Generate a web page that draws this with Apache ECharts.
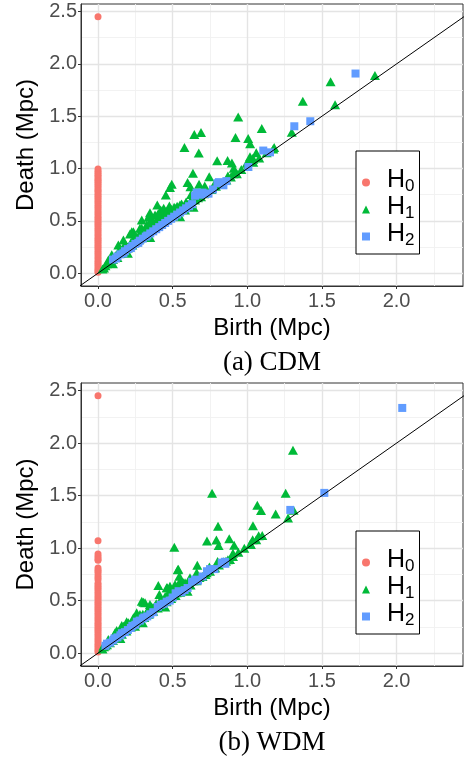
<!DOCTYPE html>
<html>
<head>
<meta charset="utf-8">
<script src="https://cdn.jsdelivr.net/npm/echarts@6/dist/echarts.min.js"></script>
<style>
html,body{margin:0;padding:0;background:#fff;}
#chart{width:466px;height:760px;}
</style>
</head>
<body>
<div id="chart"></div>
<script>
// ---------- data ----------
const xTicks = [0, 0.5, 1.0, 1.5, 2.0];
const yTicks = [0, 0.5, 1.0, 1.5, 2.0, 2.5];
const xMinor = [0.25, 0.75, 1.25, 1.75, 2.25];
const yMinor = [0.25, 0.75, 1.25, 1.75, 2.25];
const seriesNames = ['H0', 'H1', 'H2'];
const captions = ['(a) CDM', '(b) WDM'];
const diagonal = [[-0.2, -0.2], [2.6, 2.6]];

const cdmH0Death = [2.45, 0.995, 0.975, 0.955, 0.935, 0.92, 0.90, 0.885, 0.87, 0.85, 0.83, 0.81, 0.79, 0.775, 0.755, 0.735, 0.715, 0.695, 0.675, 0.655, 0.635, 0.615, 0.595, 0.575, 0.555, 0.535, 0.515, 0.495, 0.475, 0.455, 0.435, 0.415, 0.395, 0.375, 0.355, 0.335, 0.315, 0.295, 0.275, 0.255, 0.235, 0.215, 0.195, 0.175, 0.155, 0.135, 0.115, 0.095, 0.075, 0.055, 0.035, 0.02, 0.01];

const cdmH1 = [[1.855,1.890],[1.558,1.830],[1.372,1.642],[1.588,1.609],[1.298,1.346],[0.939,1.493],[1.097,1.383],[0.645,1.326],[0.690,1.344],[0.921,1.296],[1.006,1.288],[1.019,1.237],[0.579,1.200],[0.675,1.148],[1.174,1.186],[1.060,1.151],[1.036,1.097],[1.023,1.072],[0.798,1.074],[0.868,1.076],[0.897,1.052],[0.909,1.002],[0.636,0.954],[0.745,0.922],[0.870,0.928],[0.906,0.950],[0.494,0.849],[0.482,0.820],[0.600,0.866],[0.619,0.826],[0.677,0.850],[0.715,0.833],[0.779,0.850],[0.454,0.746],[0.623,0.752],[1.018,1.113],[1.040,1.088],[0.996,1.050],
[0.397,0.652],[0.478,0.642],[0.516,0.620],[0.549,0.652],[0.583,0.604],[0.420,0.604],[0.455,0.588],[0.382,0.556],[0.337,0.534],[0.293,0.429],[0.237,0.397],[0.214,0.375],[0.293,0.509],[0.326,0.461],[0.181,0.280],[0.147,0.232],[0.114,0.158],[0.080,0.095],[0.348,0.578],[0.281,0.429],[0.226,0.397],[0.170,0.318],[0.136,0.270],[0.092,0.175],[0.069,0.127],
[0.03,0.04],[0.04,0.05],[0.05,0.07],[0.06,0.09],[0.08,0.11],[0.10,0.13],[0.12,0.17],[0.13,0.15],[0.15,0.19],[0.16,0.21],[0.18,0.22],[0.19,0.26],[0.20,0.24],[0.22,0.29],[0.23,0.27],[0.25,0.32],[0.26,0.30],[0.27,0.35],[0.28,0.33],[0.30,0.38],[0.31,0.36],[0.32,0.41],[0.33,0.39],[0.35,0.45],[0.36,0.42],[0.37,0.48],[0.38,0.44],[0.39,0.50],[0.40,0.47],[0.41,0.53],[0.42,0.49],[0.43,0.56],[0.44,0.51],[0.45,0.57],[0.46,0.53],[0.47,0.60],[0.48,0.55],[0.49,0.61],[0.50,0.57],[0.51,0.63],[0.52,0.58],[0.53,0.64],[0.54,0.60],[0.56,0.66],[0.57,0.62],[0.59,0.68],[0.60,0.65],[0.62,0.69],[0.63,0.67],[0.65,0.70],[0.67,0.72],[0.69,0.73],[0.71,0.76],[0.73,0.77],[0.76,0.80],[0.79,0.83],[0.82,0.85],[0.86,0.89],[0.89,0.92],[0.93,0.95],[0.96,0.99],[1.00,1.02],[1.04,1.06],[1.08,1.10],[1.13,1.15],[1.18,1.20],
[0.25,0.36],[0.29,0.40],[0.34,0.46],[0.40,0.56],[0.44,0.62],[0.36,0.52],[0.20,0.19],[0.35,0.34],[0.55,0.54],[0.10,0.09],[0.64,0.63]];

const cdmH2 = [[0.10,0.13],[0.12,0.14],[0.13,0.16],[0.15,0.18],[0.17,0.19],[0.18,0.21],[0.20,0.23],[0.22,0.24],[0.23,0.26],[0.25,0.28],[0.27,0.29],[0.28,0.31],[0.30,0.33],[0.32,0.35],[0.33,0.36],[0.35,0.38],[0.37,0.40],[0.39,0.42],[0.41,0.44],[0.43,0.46],[0.45,0.48],[0.47,0.50],[0.49,0.52],[0.51,0.54],[0.53,0.56],[0.55,0.58],[0.57,0.60],[0.59,0.62],[0.61,0.64],[0.63,0.66],[0.65,0.74],[0.66,0.77],[0.69,0.75],[0.70,0.77],[0.72,0.76],[0.74,0.76],[0.77,0.80],[0.80,0.86],[0.81,0.87],[0.84,0.84],[0.86,0.88],[1.007,1.015],[1.107,1.172],[1.152,1.155],[1.315,1.404],[1.422,1.452],[1.725,1.908]];

const wdmH0Death = [2.45, 1.07, 0.945, 0.92, 0.90, 0.885, 0.81, 0.79, 0.77, 0.745, 0.72, 0.70, 0.665, 0.645, 0.625, 0.605, 0.585, 0.565, 0.545, 0.525, 0.505, 0.485, 0.465, 0.445, 0.425, 0.405, 0.385, 0.365, 0.345, 0.325, 0.305, 0.285, 0.265, 0.245, 0.225, 0.205, 0.185, 0.165, 0.145, 0.125, 0.105, 0.085, 0.065, 0.045, 0.025, 0.01];

const wdmH1 = [[1.306,1.932],[0.764,1.522],[1.257,1.522],[1.310,1.360],[1.067,1.408],[1.092,1.358],[1.190,1.326],[1.273,1.288],[0.804,1.208],[1.038,1.212],[0.730,1.068],[0.793,1.078],[0.808,1.025],[0.879,1.090],[0.912,1.027],[0.511,1.009],[1.036,1.080],[1.076,1.117],[1.024,1.034],[0.904,0.952],[0.904,0.920],[0.538,0.800],[0.665,0.837],[0.746,0.820],[0.801,0.873],[0.884,0.891],[0.857,0.875],[0.545,0.733],[0.534,0.793],
[0.404,0.644],[0.464,0.622],[0.478,0.590],[0.531,0.632],[0.571,0.670],[0.589,0.632],[0.411,0.559],[0.315,0.480],[0.348,0.463],[0.371,0.432],[0.293,0.495],[0.159,0.264],[0.203,0.289],[0.248,0.257],[0.516,0.654],[0.549,0.685],[0.583,0.670],[0.460,0.622],[0.482,0.638],[0.527,0.575],[0.494,0.542],[0.437,0.495],[0.382,0.447],[0.337,0.416],[0.281,0.368],[0.237,0.337],[0.170,0.257],[0.114,0.194],[0.069,0.130],[0.036,0.067],[0.661,0.765],[0.616,0.717],[0.728,0.765],[0.784,0.812],[0.304,0.485],[0.259,0.384],[0.192,0.299],[0.125,0.216],
[0.03,0.04],[0.04,0.06],[0.05,0.07],[0.06,0.08],[0.08,0.10],[0.09,0.13],[0.10,0.12],[0.12,0.16],[0.13,0.15],[0.15,0.20],[0.16,0.18],[0.18,0.23],[0.19,0.21],[0.21,0.26],[0.22,0.25],[0.24,0.30],[0.25,0.28],[0.27,0.33],[0.28,0.31],[0.30,0.37],[0.31,0.34],[0.33,0.40],[0.34,0.37],[0.36,0.44],[0.37,0.40],[0.39,0.47],[0.40,0.43],[0.42,0.51],[0.43,0.46],[0.45,0.54],[0.46,0.49],[0.48,0.58],[0.49,0.52],[0.51,0.60],[0.52,0.55],[0.54,0.63],[0.55,0.58],[0.57,0.64],[0.58,0.61],[0.60,0.66],[0.62,0.65],[0.64,0.69],[0.66,0.69],[0.68,0.72],[0.70,0.73],[0.72,0.75],[0.75,0.78],[0.78,0.81],[0.81,0.84],[0.84,0.87],[0.87,0.89],[0.90,0.92],[0.94,0.96],[0.98,1.00],[1.02,1.04],[1.06,1.08],[1.10,1.12],[0.15,0.14],[0.30,0.29],[0.45,0.44],[0.60,0.59]];

const wdmH2 = [[0.05,0.07],[0.06,0.09],[0.08,0.10],[0.10,0.12],[0.11,0.14],[0.13,0.15],[0.15,0.17],[0.16,0.19],[0.18,0.20],[0.20,0.22],[0.22,0.24],[0.23,0.26],[0.25,0.27],[0.26,0.30],[0.28,0.31],[0.30,0.33],[0.31,0.34],[0.33,0.35],[0.35,0.37],[0.37,0.39],[0.40,0.44],[0.42,0.46],[0.44,0.47],[0.46,0.49],[0.48,0.50],[0.50,0.53],[0.52,0.57],[0.54,0.59],[0.56,0.58],[0.58,0.60],[0.60,0.62],[0.63,0.68],[0.65,0.70],[0.67,0.69],[0.70,0.73],[0.73,0.78],[0.75,0.80],[0.78,0.80],[0.83,0.86],[0.85,0.87],[0.853,0.851],[0.829,0.860],[1.288,1.364],[1.516,1.526],[2.038,2.335]];

// ---------- chart ----------
const SANS = 'Liberation Sans';
const SERIF = 'Liberation Serif';
const colors = {H0:'#F8766D', H1:'#00BA38', H2:'#619CFF'};
const panels = [
  {h0: cdmH0Death, h1: cdmH1, h2: cdmH2, top: 4, height: 282, legendTop: 151, capY: 363},
  {h0: wdmH0Death, h1: wdmH1, h2: wdmH2, top: 383, height: 283, legendTop: 531, capY: 743}
];

const grids = [], xAxes = [], yAxes = [], series = [], legends = [], graphics = [];
const fmt = v => v.toFixed(1);
const major = {color:'#e4e4e4', width:1.4, type:'solid'};
const minor = {color:'#f0f0f0', width:0.9, type:'solid'};

panels.forEach((p, i) => {
  grids.push({left:81, top:p.top, width:382, height:p.height, show:true, borderColor:'#333', borderWidth:1, backgroundColor:'#fff'});
  xAxes.push({
    gridIndex:i, type:'value', min:-0.114, max:2.445,
    axisLine:{show:true, onZero:false, lineStyle:{color:'#333', width:1}},
    axisTick:{show:true, customValues:xTicks, length:3, lineStyle:{color:'#333'}},
    axisLabel:{customValues:xTicks, formatter:fmt, fontSize:20, fontFamily:SANS, color:'#4d4d4d', margin:5},
    splitLine:{show:false},
    name:'Birth (Mpc)', nameLocation:'middle', nameGap:30,
    nameTextStyle:{fontSize:24, fontFamily:SANS, color:'#000'}
  });
  yAxes.push({
    gridIndex:i, type:'value', min:-0.1225, max:2.5725,
    axisLine:{show:true, onZero:false, lineStyle:{color:'#333', width:1}},
    axisTick:{show:true, customValues:yTicks, length:3, lineStyle:{color:'#333'}},
    axisLabel:{customValues:yTicks, formatter:fmt, fontSize:20, fontFamily:SANS, color:'#4d4d4d', margin:4},
    splitLine:{show:false},
    name:'Death (Mpc)', nameLocation:'middle', nameGap:40, nameRotate:90,
    nameTextStyle:{fontSize:24, fontFamily:SANS, color:'#000'}
  });
  // grid lines via markLines
  const ml = [];
  xMinor.forEach(v => ml.push({xAxis:v, lineStyle:minor}));
  yMinor.forEach(v => ml.push({yAxis:v, lineStyle:minor}));
  xTicks.forEach(v => ml.push({xAxis:v, lineStyle:major}));
  yTicks.forEach(v => ml.push({yAxis:v, lineStyle:major}));
  series.push({
    type:'line', xAxisIndex:i, yAxisIndex:i, data:[], z:0, silent:true,
    markLine:{z:0, silent:true, symbol:'none', label:{show:false}, animation:false,
      lineStyle:{type:'solid'}, emphasis:{disabled:true}, data:ml}
  });
  series.push({
    name:'H0', type:'scatter', xAxisIndex:i, yAxisIndex:i, z:2,
    symbol:'circle', symbolSize:7, itemStyle:{color:colors.H0, opacity:1},
    data:p.h0.map(d => [0, d])
  });
  series.push({
    name:'H1', type:'scatter', xAxisIndex:i, yAxisIndex:i, z:3,
    symbol:'triangle', symbolSize:[10,9], itemStyle:{color:colors.H1, opacity:1},
    data:p.h1
  });
  series.push({
    name:'H2', type:'scatter', xAxisIndex:i, yAxisIndex:i, z:4,
    symbol:'rect', symbolSize:8, itemStyle:{color:colors.H2, opacity:1},
    data:p.h2
  });
  series.push({
    type:'line', xAxisIndex:i, yAxisIndex:i, z:5, silent:true,
    symbol:'none', lineStyle:{color:'#000', width:1}, data:diagonal, clip:true
  });
  legends.push({
    data:seriesNames, orient:'vertical', left:356, top:p.legendTop,
    padding:[17,5,5,6], itemGap:0, itemWidth:8, itemHeight:8,
    borderColor:'#000', borderWidth:1, backgroundColor:'#fff',
    selectedMode:false,
    formatter: n => '{h|H}{s|' + n.slice(1) + '}',
    textStyle:{rich:{
      h:{fontSize:25, fontFamily:SANS, color:'#000', padding:[0,0,2,12], lineHeight:25, verticalAlign:'bottom'},
      s:{fontSize:17, fontFamily:SANS, color:'#000', lineHeight:17, verticalAlign:'bottom'}
    }}
  });
  graphics.push({
    type:'text', x:272, y:p.capY,
    style:{text:captions[i], font:'27px "' + SERIF + '"', fill:'#000', textAlign:'center', textVerticalAlign:'middle'}
  });
});

const chart = echarts.init(document.getElementById('chart'), null, {renderer:'canvas'});
chart.setOption({
  animation:false,
  backgroundColor:'#fff',
  grid:grids, xAxis:xAxes, yAxis:yAxes, legend:legends, series:series, graphic:graphics
});
</script>
</body>
</html>
